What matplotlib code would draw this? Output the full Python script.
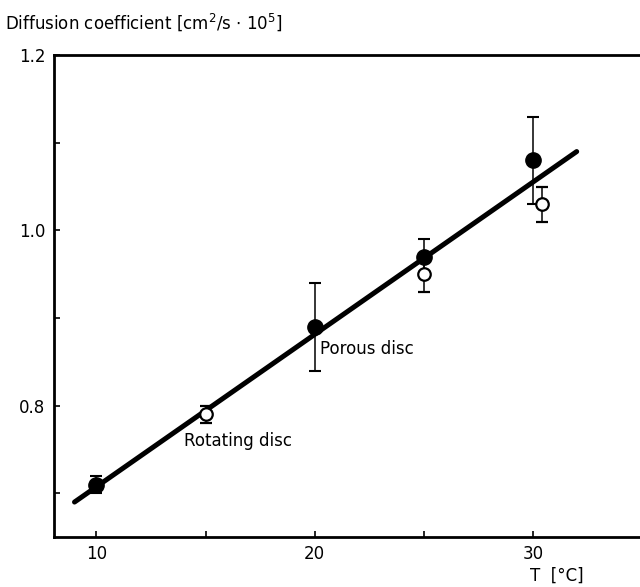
import matplotlib.pyplot as plt

# porous disc (filled circles)
porous_T = [10, 20, 25, 30]
porous_D = [0.71, 0.89, 0.97, 1.08]
porous_err = [0.01, 0.05, 0.02, 0.05]

# rotating disc (open circles)
rot_T = [15, 25, 30.4]
rot_D = [0.79, 0.95, 1.03]
rot_err = [0.01, 0.02, 0.02]

# fitted line
fit_T = [9.0, 32.0]
fit_D = [0.69, 1.09]

plt.rcParams['font.family'] = ['DejaVu Sans']
fig = plt.figure(figsize=(6.4, 5.87), dpi=100)
ax = fig.add_axes([0.084, 0.085, 0.916, 0.821])

ax.plot(fit_T, fit_D, color="black", linewidth=3.6, solid_capstyle="round", zorder=2)

ax.errorbar(porous_T, porous_D, yerr=porous_err, fmt="o", color="black",
            markersize=11, elinewidth=1.1, capsize=4, capthick=1.5, zorder=3)
ax.errorbar(rot_T, rot_D, yerr=rot_err, fmt="o", color="black", mfc="white",
            mec="black", mew=1.6, markersize=9, elinewidth=1.1, capsize=4,
            capthick=1.5, zorder=4)

ax.text(20.25, 0.865, "Porous disc", fontsize=12, va="center", ha="left")
ax.text(14.0, 0.76, "Rotating disc", fontsize=12, va="center", ha="left")

ax.set_xlim(8.05, 34.9)
ax.set_ylim(0.65, 1.2)
ax.set_xticks([10, 15, 20, 25, 30])
ax.set_xticklabels(["10", "", "20", "", "30"])
ax.set_yticks([0.7, 0.8, 0.9, 1.0, 1.1, 1.2])
ax.set_yticklabels(["", "0.8", "", "1.0", "", "1.2"])
ax.tick_params(direction="in", length=4, width=1.2, labelsize=12, pad=6)

ax.spines["right"].set_visible(False)
for s in ["left", "top", "bottom"]:
    ax.spines[s].set_linewidth(2)

fig.text(0.008, 0.962, "Diffusion coefficient [cm$^2$/s $\\cdot$ 10$^5$]",
         fontsize=12, ha="left", va="center")
fig.text(0.87, 0.02, "T  [°C]", fontsize=12, ha="center", va="center")

plt.savefig("out.png", dpi=100)
